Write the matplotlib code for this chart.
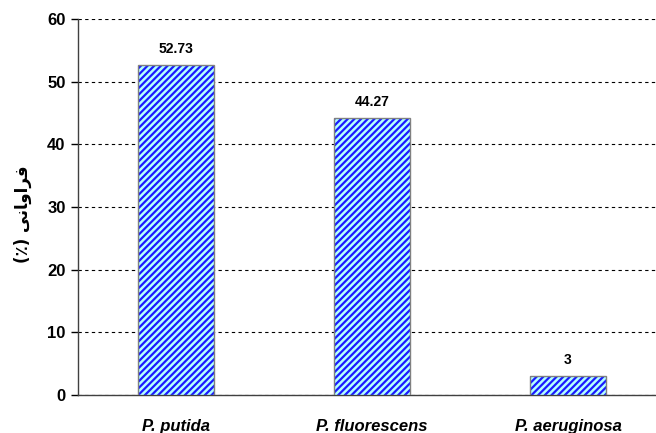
import matplotlib
matplotlib.use("Agg")
import matplotlib.pyplot as plt

categories = ["P. putida", "P. fluorescens", "P. aeruginosa"]
values = [52.73, 44.27, 3]
value_labels = ["52.73", "44.27", "3"]
yticks = [0, 10, 20, 30, 40, 50, 60]

# Persian axis title "فراوانی (٪)" written in shaped presentation forms, visual order
ylabel = "(\u066A) " + "\uFEF0\uFEE7\uFE8E\uFEED\uFE8D\uFEAE\uFED3"

plt.rcParams["hatch.linewidth"] = 1.6

fig = plt.figure(figsize=(6.56, 4.33), dpi=100)
ax = fig.add_axes([78 / 656, 38 / 433, 588 / 656, 376 / 433])

x = list(range(len(categories)))
# hatched fill (hatch takes the edge colour), then a grey outline on top
ax.bar(x, values, width=0.39, color="#b3ffff", edgecolor="#1a1aff",
       linewidth=0, hatch="/////", zorder=3)
ax.bar(x, values, width=0.39, fill=False, edgecolor="#808080",
       linewidth=1.0, zorder=4)

for xi, v, lab in zip(x, values, value_labels):
    ax.text(xi, v + 1.4, lab, ha="center", va="bottom", fontsize=10,
            fontweight="bold", family="Liberation Sans")

ax.set_xlim(-0.5, 2.5)
ax.set_ylim(0, 60)
ax.set_yticks(yticks)
ax.set_yticklabels([str(t) for t in yticks], fontsize=12, fontweight="bold",
                   family="Liberation Sans")
ax.set_xticks(x)
ax.set_xticklabels(categories, fontsize=12, fontweight="bold", style="italic",
                   family="Liberation Sans")
ax.tick_params(axis="x", length=0, pad=17)
ax.tick_params(axis="y", direction="out", length=5, width=1, pad=4)

ax.yaxis.grid(True, linestyle=(0, (3, 3)), color="black", linewidth=0.8, zorder=0)
ax.set_axisbelow(True)
for s in ["top", "right"]:
    ax.spines[s].set_visible(False)
for s in ["left", "bottom"]:
    ax.spines[s].set_color("#404040")
    ax.spines[s].set_linewidth(1.0)

ax.set_ylabel(ylabel, fontsize=12, fontweight="bold", family=["DejaVu Sans"])
ax.yaxis.set_label_coords(-0.078, 0.48)

fig.savefig("out.png", dpi=100)
